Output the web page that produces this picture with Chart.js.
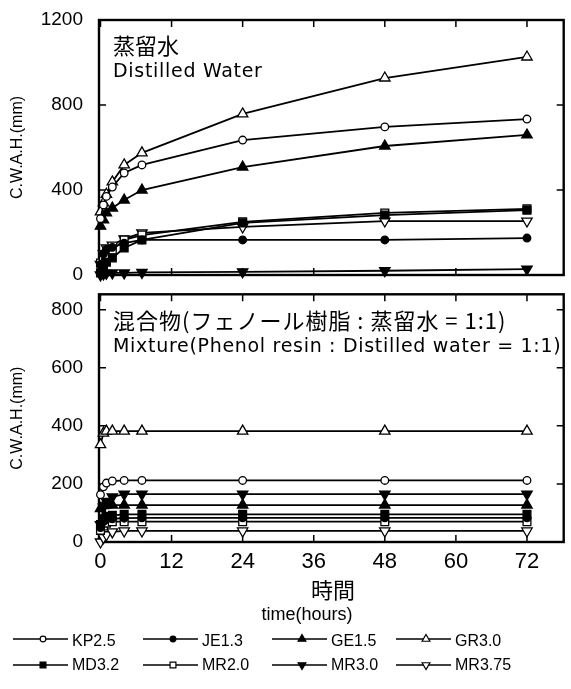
<!DOCTYPE html>
<html>
<head>
<meta charset="utf-8">
<script src="https://cdn.jsdelivr.net/npm/chart.js@4/dist/chart.umd.min.js"></script>
<style>
  body { margin: 0; background: #fff; width: 571px; height: 689px; position: relative; overflow: hidden; }
  canvas { position: absolute; left: 0; }
  #top { top: 0; }
  #bottom { top: 287px; }
</style>
</head>
<body>
<canvas id="top" width="571" height="287"></canvas>
<canvas id="bottom" width="571" height="402"></canvas>
<script>
const hours = [0, 0.5, 1, 2, 4, 7, 24, 48, 72];
const xTicks = [0, 12, 24, 36, 48, 60, 72];
const topTicks = [0, 400, 800, 1200];
const bottomTicks = [0, 200, 400, 600, 800];

const seriesNames = ["KP2.5", "JE1.3", "GE1.5", "GR3.0", "MD3.2", "MR2.0", "MR3.0", "MR3.75"];

// 蒸留水 / Distilled Water
const water = [
    [265, 330, 370, 414, 480, 518, 635, 697, 734],   // KP2.5
    [50, 100, 120, 130, 150, 165, 165, 165, 174],    // JE1.3
    [230, 260, 292, 315, 353, 400, 508, 607, 659],   // GE1.5
    [297, 339, 380, 438, 518, 575, 758, 927, 1026],  // GR3.0
    [10, 40, 60, 80, 127, 165, 245, 282, 305],       // MD3.2
    [56, 70, 95, 118, 165, 188, 250, 292, 311],      // MR2.0
    [0, 5, 8, 10, 10, 12, 15, 20, 28],               // MR3.0
    [50, 100, 127, 141, 170, 198, 226, 254, 254]     // MR3.75
];

// 混合物 / Mixture
const mixture = [
    [163, 190, 203, 210, 212, 212, 212, 212, 212],   // KP2.5
    [50, 70, 78, 80, 82, 83, 83, 83, 83],            // JE1.3
    [115, 125, 127, 127, 127, 127, 127, 127, 127],   // GE1.5
    [335, 375, 382, 382, 382, 382, 382, 382, 382],   // GR3.0
    [60, 80, 88, 92, 95, 95, 95, 95, 95],            // MD3.2
    [40, 55, 65, 70, 70, 70, 70, 70, 70],            // MR2.0
    [60, 120, 140, 155, 165, 165, 165, 165, 165],    // MR3.0
    [0, 15, 25, 35, 38, 38, 38, 38, 38]              // MR3.75
];

const markers = [
    { style: "circle", rot: 0, fill: false, r: 3.8 },
    { style: "circle", rot: 0, fill: true, r: 3.8 },
    { style: "triangle", rot: 0, fill: true, r: 6 },
    { style: "triangle", rot: 0, fill: false, r: 6 },
    { style: "rect", rot: 0, fill: true, r: 5.5 },
    { style: "rect", rot: 0, fill: false, r: 5.5 },
    { style: "triangle", rot: 180, fill: true, r: 6 },
    { style: "triangle", rot: 180, fill: false, r: 6 }
];

const latin = '"Liberation Sans", "Noto Sans CJK JP", sans-serif';
const jp = '"Noto Sans CJK JP", "Liberation Sans", sans-serif';
const dejavu = '"DejaVu Sans", sans-serif';

function makeDatasets(values) {
    return seriesNames.map((name, i) => ({
        label: name,
        data: hours.map((h, j) => ({ x: h, y: values[i][j] })),
        borderColor: "#000",
        borderWidth: 1.8,
        pointStyle: markers[i].style,
        pointRotation: markers[i].rot,
        pointRadius: markers[i].r,
        pointBorderWidth: 1.3,
        pointBackgroundColor: markers[i].fill ? "#000" : "#fff",
        pointBorderColor: "#000",
        tension: 0,
        clip: false
    }));
}

// frame with inward ticks, plus free text; notes are kept in the closure
function decor(notes, legend) {
    return {
        id: "decor",
        beforeDatasetsDraw(chart) {
            const { ctx, chartArea: a, scales } = chart;
            ctx.save();
            ctx.strokeStyle = "#000";
            ctx.lineWidth = 1.5;
            ctx.beginPath();
            scales.x.ticks.forEach(t => {
                const px = scales.x.getPixelForValue(t.value);
                ctx.moveTo(px, a.bottom); ctx.lineTo(px, a.bottom - 7);
                ctx.moveTo(px, a.top); ctx.lineTo(px, a.top + 7);
            });
            scales.y.ticks.forEach(t => {
                const py = scales.y.getPixelForValue(t.value);
                ctx.moveTo(a.left, py); ctx.lineTo(a.left + 7, py);
                ctx.moveTo(a.right, py); ctx.lineTo(a.right - 7, py);
            });
            ctx.stroke();
            ctx.lineWidth = 2.4;
            ctx.strokeRect(a.left, a.top, a.right - a.left, a.bottom - a.top);
            ctx.restore();
        },
        afterDraw(chart) {
            const { ctx, chartArea: a } = chart;
            ctx.save();
            ctx.fillStyle = "#000";
            ctx.textBaseline = "middle";
            notes.forEach(l => {
                ctx.font = l.font;
                ctx.letterSpacing = l.spacing || "0px";
                ctx.textAlign = l.align || "left";
                ctx.fillText(l.text, l.abs ? l.x : a.left + l.x, l.abs ? l.y : a.top + l.y);
            });
            ctx.letterSpacing = "0px";
            if (legend) {
                const cols = [13, 143, 272, 396];
                const rows = [352, 378];
                chart.data.datasets.forEach((ds, i) => {
                    const x = cols[i % 4], y = rows[Math.floor(i / 4)];
                    const m = markers[i];
                    ctx.strokeStyle = "#000";
                    ctx.lineWidth = 1.7;
                    ctx.beginPath();
                    ctx.moveTo(x, y); ctx.lineTo(x + 55, y);
                    ctx.stroke();
                    ctx.fillStyle = m.fill ? "#000" : "#fff";
                    ctx.lineWidth = 1.2;
                    Chart.helpers.drawPoint(ctx, {
                        pointStyle: m.style, rotation: m.rot, radius: m.r * 0.75, borderWidth: 1.2
                    }, x + 30, y);
                    ctx.fillStyle = "#000";
                    ctx.font = "16px " + latin;
                    ctx.textAlign = "left";
                    ctx.fillText(ds.label, x + 59, y + (i < 4 ? 3 : 1));
                });
            }
            ctx.restore();
        }
    };
}

function options(yMax, yTicks, showX, padding) {
    return {
        responsive: false,
        animation: false,
        layout: { padding },
        plugins: { legend: { display: false }, tooltip: { enabled: false } },
        scales: {
            x: {
                type: "linear",
                min: -0.25,
                max: 78.2,
                afterBuildTicks: s => { s.ticks = xTicks.map(v => ({ value: v })); },
                afterFit: s => { s.height = showX ? 28 : 0; s.paddingLeft = 0; s.paddingRight = 0; },
                grid: { display: false, drawTicks: false },
                border: { display: false },
                ticks: {
                    display: showX,
                    color: "#000",
                    padding: 7,
                    maxRotation: 0,
                    font: { family: latin, size: 22 }
                }
            },
            y: {
                min: 0,
                max: yMax,
                afterBuildTicks: s => { s.ticks = yTicks.map(v => ({ value: v })); },
                afterFit: s => { s.width = 99; s.paddingTop = 0; s.paddingBottom = 0; },
                grid: { display: false, drawTicks: false },
                border: { display: false },
                ticks: {
                    color: "#000",
                    padding: 16,
                    callback: v => String(v),
                    font: { family: latin, size: 19 }
                },
                title: {
                    display: true,
                    text: "C.W.A.H.(mm)",
                    color: "#000",
                    padding: { top: 8, bottom: 0 },
                    font: { family: latin, size: 16 }
                }
            }
        }
    };
}

new Chart(document.getElementById("top"), {
    type: "line",
    data: { datasets: makeDatasets(water) },
    options: options(1200, topTicks, false, { top: 20, right: 3, bottom: 12, left: 0 }),
    plugins: [decor([
        { text: "蒸留水", x: 14, y: 26, font: "22px " + jp },
        { text: "Distilled Water", x: 14, y: 52, font: "19px " + dejavu, spacing: "0.7px" }
    ], false)]
});

new Chart(document.getElementById("bottom"), {
    type: "line",
    data: { datasets: makeDatasets(mixture) },
    options: options(853, bottomTicks, true, { top: 0, right: 3, bottom: 119, left: 0 }),
    plugins: [decor([
        { text: "混合物(フェノール樹脂 : 蒸留水 = 1:1)", x: 14, y: 26, font: "22px " + jp, spacing: "1px" },
        { text: "Mixture(Phenol resin : Distilled water = 1:1)", x: 14, y: 53, font: "19px " + dejavu, spacing: "0.7px" },
        { text: "時間", x: 333, y: 303, abs: true, align: "center", font: "22px " + jp },
        { text: "time(hours)", x: 307, y: 328, abs: true, align: "center", font: "18px " + latin }
    ], true)]
});
</script>
</body>
</html>
